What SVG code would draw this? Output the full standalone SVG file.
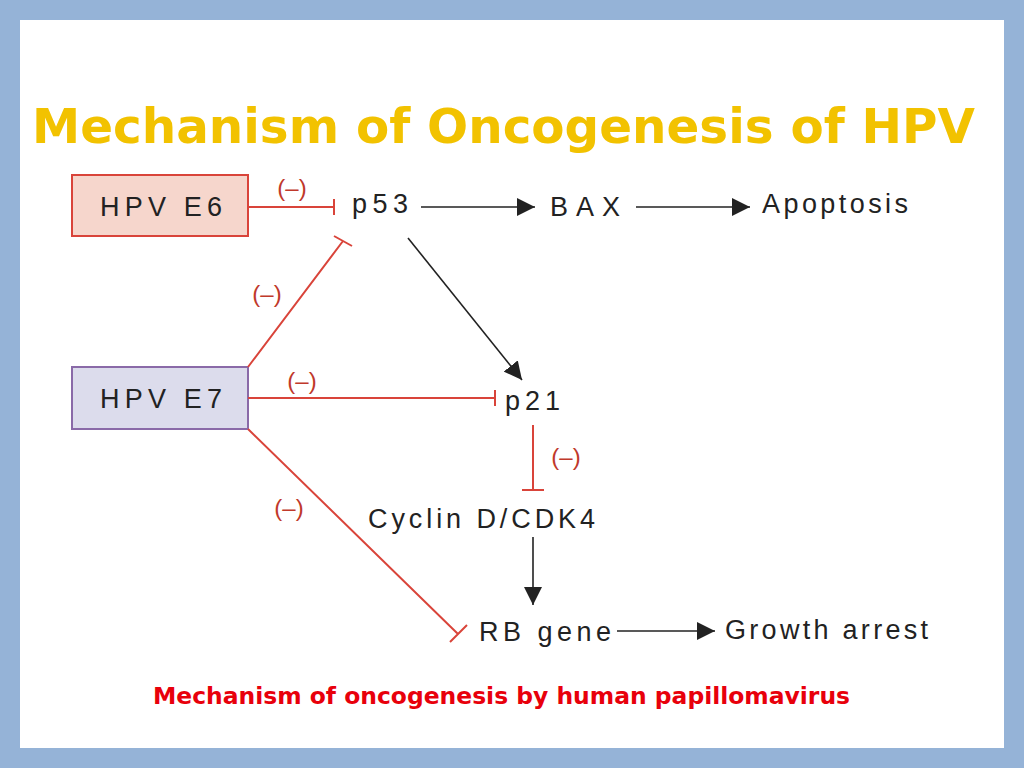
<svg xmlns="http://www.w3.org/2000/svg" width="1024" height="768" viewBox="0 0 1024 768">
<style>
.t{font-family:"Liberation Sans",Arial,sans-serif;font-size:27px;fill:#222}
.m{font-family:"Liberation Sans",Arial,sans-serif;font-size:24px;fill:#c0392b}
.r{stroke:#d9443a;stroke-width:2;fill:none}
.k{stroke:#222;stroke-width:1.6;fill:none}
</style>
<defs>
<marker id="ah" viewBox="0 0 10 10" refX="10" refY="5" markerWidth="18" markerHeight="18" markerUnits="userSpaceOnUse" orient="auto"><path d="M0,0L10,5L0,10z" fill="#222"/></marker></defs>
<rect width="1024" height="768" fill="#95b3d7"/>
<rect x="20" y="20" width="984" height="728" fill="#fff"/>
<text x="32" y="143" textLength="943" lengthAdjust="spacingAndGlyphs" font-family="'Comic Sans MS','DejaVu Sans',sans-serif" font-weight="bold" font-size="48" fill="#f2c200">Mechanism of Oncogenesis of HPV</text>
<g id="e6"><rect x="72" y="175" width="176" height="61" fill="#f6d6cc" stroke="#d9443a" stroke-width="2"/><text class="t" x="100" y="216" textLength="122" lengthAdjust="spacing">HPV E6</text></g>
<g id="e7"><rect x="72" y="367" width="176" height="62" fill="#dcdcec" stroke="#8a6aa8" stroke-width="2"/><text class="t" x="100" y="408" textLength="122" lengthAdjust="spacing">HPV E7</text></g>
<g id="p53"><text class="t" x="352" y="213" textLength="56" lengthAdjust="spacing">p53</text></g>
<g id="bax"><text class="t" x="550" y="216" textLength="70" lengthAdjust="spacing">BAX</text></g>
<g id="apop"><text class="t" x="762" y="213" textLength="146" lengthAdjust="spacing">Apoptosis</text></g>
<g id="p21"><text class="t" x="505" y="410" textLength="55" lengthAdjust="spacing">p21</text></g>
<g id="cyc"><text class="t" x="368" y="528" textLength="227" lengthAdjust="spacing">Cyclin D/CDK4</text></g>
<g id="rb"><text class="t" x="479" y="641" textLength="132" lengthAdjust="spacing">RB gene</text></g>
<g id="ga"><text class="t" x="725" y="639" textLength="203" lengthAdjust="spacing">Growth arrest</text></g>
<g id="connectors">
<path class="r" d="M248,207H334M334,199V215"/>
<path class="r" d="M248,367L343,241M334,236L352,246"/>
<path class="r" d="M248,398H495M495,390V406"/>
<path class="r" d="M533,425V490M522,490H544"/>
<path class="r" d="M248,429L458,634M450,642L467,625"/>
<path class="k" d="M421,207H535" marker-end="url(#ah)"/>
<path class="k" d="M636,207H750" marker-end="url(#ah)"/>
<path class="k" d="M408,238L522,380" marker-end="url(#ah)"/>
<path class="k" d="M533,537V605" marker-end="url(#ah)"/>
<path class="k" d="M617,631H715" marker-end="url(#ah)"/>
<text class="m" x="292" y="196" text-anchor="middle">(–)</text>
<text class="m" x="267" y="302" text-anchor="middle">(–)</text>
<text class="m" x="302" y="389" text-anchor="middle">(–)</text>
<text class="m" x="566" y="465" text-anchor="middle">(–)</text>
<text class="m" x="289" y="516" text-anchor="middle">(–)</text>
</g>
<text x="153" y="704" textLength="697" lengthAdjust="spacingAndGlyphs" font-family="'Comic Sans MS','DejaVu Sans',sans-serif" font-weight="bold" font-size="23" fill="#e8000b">Mechanism of oncogenesis by human papillomavirus</text>
</svg>
